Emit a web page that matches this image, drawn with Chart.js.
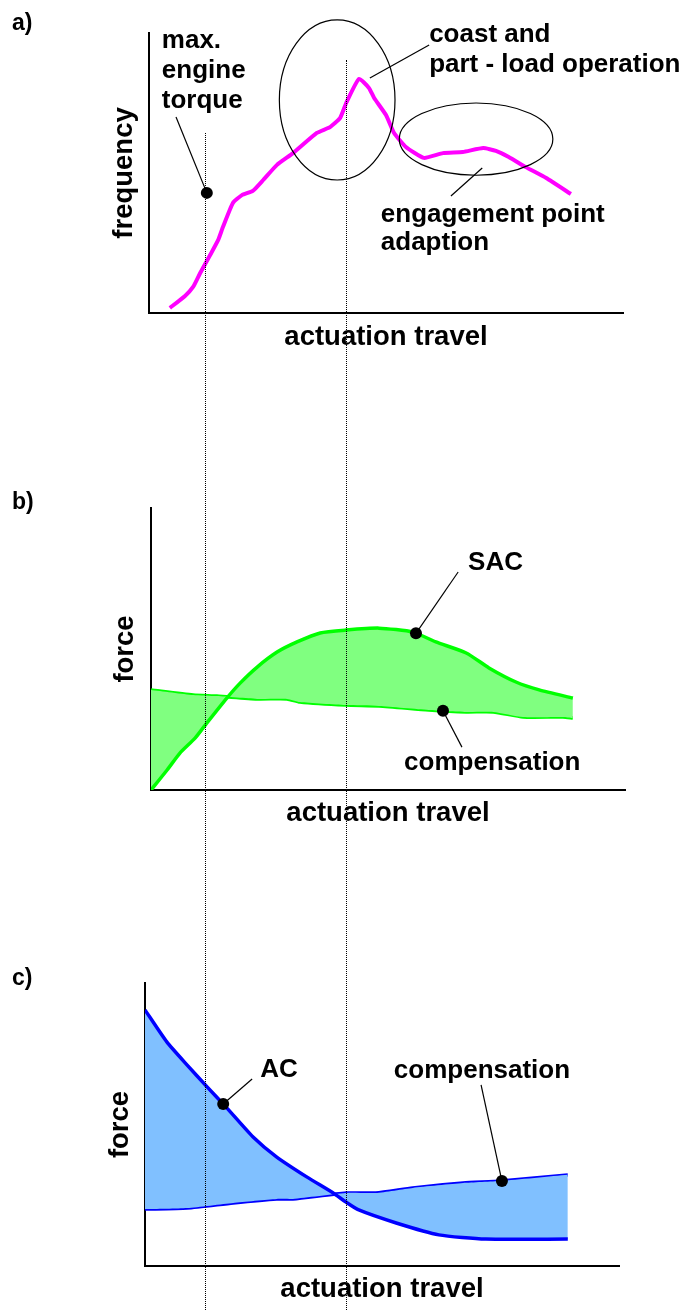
<!DOCTYPE html>
<html>
<head>
<meta charset="utf-8">
<script src="https://cdn.jsdelivr.net/npm/chart.js@4"></script>
<style>
  body { margin: 0; background: #fff; }
  #page { position: relative; width: 692px; height: 1310px; overflow: hidden; }
  canvas { position: absolute; left: 0; }
  .guide { position: absolute; width: 0; bottom: 0; border-left: 1px dotted #000; }
</style>
</head>
<body>
<div id="page">
  <canvas id="freqChart" width="692" height="360" style="top:0"></canvas>
  <canvas id="sacChart" width="692" height="380" style="top:460px"></canvas>
  <canvas id="acChart" width="692" height="360" style="top:950px"></canvas>
  <div class="guide" style="left:205px; top:133px"></div>
  <div class="guide" style="left:346px; top:60px"></div>
</div>
<script>
// a) frequency over actuation travel (0..100 = length of the axis)
const freqTravel = [4.4, 7.6, 9.3, 10.8, 12.9, 14.6, 15.6, 17.7, 19.6, 21.9, 24.1, 27.0, 30.4, 35.4, 38.2, 40.3,
                    41.6, 44.3, 46.4, 47.5, 50.0, 51.7, 54.2, 58.0, 62.0, 66.2, 70.5, 73.2, 75.9, 79.5, 83.8, 89.0];
const freqValues = [1.8, 6.1, 9.3, 14.3, 20.7, 26.1, 30.7, 39.3, 42.1, 43.6, 47.5, 52.9, 57.1, 64.3, 66.4, 69.6,
                    75.0, 83.6, 80.4, 76.8, 70.7, 64.3, 59.3, 55.4, 57.1, 57.5, 58.9, 57.9, 55.7, 52.1, 48.2, 42.5];

// b) self adjusting clutch force vs compensation
const sacTravel = [0, 3.4, 6.1, 9.3, 11.8, 16.0, 18.8, 22.4, 26.6, 30.8, 35.7, 41.1, 48.1, 55.3, 60.1, 66.5, 71.3, 77.0, 81.9, 89.0];
const sacForce  = [0, 7.1, 13.1, 18.4, 23.8, 32.6, 37.9, 43.6, 48.9, 52.5, 55.7, 56.7, 57.4, 56.0, 52.5, 48.6, 43.3, 38.3, 35.5, 32.6];
const compBTravel = [0, 8.9, 13.9, 22.4, 28.7, 31.4, 41.1, 48.1, 58.6, 66.5, 72.2, 78.5, 86.9, 89.0];
const compBForce  = [35.5, 33.7, 33.3, 32.3, 32.3, 31.2, 30.1, 29.8, 28.4, 27.7, 27.7, 25.9, 25.9, 25.5];

// c) conventional clutch force vs compensation
const acTravel = [0, 4.6, 8.9, 13.1, 17.3, 22.8, 27.8, 34.2, 39.7, 42.4, 45.1, 53.0, 62.0, 71.9, 89.2];
const acForce  = [90.5, 79.2, 71.0, 63.3, 55.8, 45.6, 38.5, 31.4, 25.8, 22.6, 19.8, 15.2, 11.0, 9.5, 9.5];
const compCTravel = [0, 8.9, 18.6, 27.8, 31.2, 42.4, 48.7, 56.5, 67.1, 75.1, 89.2];
const compCForce  = [20.1, 20.5, 22.3, 23.7, 23.7, 25.8, 25.8, 27.6, 29.3, 30.0, 32.2];

const xTitle = 'actuation travel';
const family = '"Liberation Sans", Arial, sans-serif';

const toPoints = (xs, ys) => xs.map((v, i) => ({ x: v, y: ys[i] }));

// y of a dataset at a given travel, used to sit the callout dots on the curves
function yOn(data, t) {
  for (let i = 1; i < data.length; i++) {
    if (t <= data[i].x) {
      const a = data[i - 1], b = data[i];
      return a.y + (b.y - a.y) * (t - a.x) / (b.x - a.x);
    }
  }
  return data[data.length - 1].y;
}

const callouts = {
  id: 'callouts',
  afterDatasetsDraw(chart, args, opts) {
    const { ctx, scales: { x, y } } = chart;
    const px = v => x.getPixelForValue(v);
    const py = v => y.getPixelForValue(v);
    ctx.save();
    ctx.strokeStyle = '#000';
    ctx.fillStyle = '#000';
    ctx.lineWidth = 1.2;

    (opts.ellipses || []).forEach(e => {
      ctx.beginPath();
      ctx.ellipse(px(e.x), py(e.y), Math.abs(px(e.x + e.rx) - px(e.x)), Math.abs(py(e.y + e.ry) - py(e.y)), 0, 0, Math.PI * 2);
      ctx.stroke();
    });

    (opts.pointers || []).forEach(p => {
      let tx, ty;
      if (p.on !== undefined) {
        tx = p.at;
        ty = yOn(chart.data.datasets[p.on].data, p.at);
      } else {
        [tx, ty] = p.to;
      }
      ctx.beginPath();
      ctx.moveTo(px(p.from[0]), py(p.from[1]));
      ctx.lineTo(px(tx), py(ty));
      ctx.stroke();
      if (p.dot !== false) {
        ctx.beginPath();
        ctx.arc(px(tx), py(ty), 6, 0, Math.PI * 2);
        ctx.fill();
      }
    });

    ctx.font = 'bold 26px ' + family;
    ctx.textBaseline = 'alphabetic';
    ctx.textAlign = 'left';
    (opts.texts || []).forEach(t => {
      t.lines.forEach((s, i) => ctx.fillText(s, px(t.x), py(t.y) + i * (t.gap || 30)));
    });

    if (opts.tag) {
      ctx.font = 'bold 23px ' + family;
      ctx.fillText(opts.tag, 12, opts.tagY);
    }
    ctx.restore();
  }
};

function scales(yTitle, xPad, yPad) {
  const axis = (text, padding) => ({
    type: 'linear', min: 0, max: 100,
    grid: { display: false, drawTicks: false },
    ticks: { display: false },
    border: { display: true, color: '#000', width: 2 },
    title: { display: true, text: text, color: '#000', padding: padding,
             font: { family: family, size: 27.5, weight: 'bold', lineHeight: 1 } }
  });
  return {
    x: axis(xTitle, { top: xPad, bottom: 0 }),
    y: axis(yTitle, { top: 0, bottom: yPad })
  };
}

function makeChart(id, datasets, yTitle, padding, xPad, yPad, notes) {
  return new Chart(document.getElementById(id), {
    type: 'line',
    data: { datasets: datasets },
    options: {
      responsive: false,
      animation: false,
      layout: { padding: padding },
      elements: { point: { radius: 0 } },
      scales: scales(yTitle, xPad, yPad),
      plugins: { legend: { display: false }, tooltip: { enabled: false }, callouts: notes }
    },
    plugins: [callouts]
  });
}

makeChart('freqChart', [{
  data: toPoints(freqTravel, freqValues),
  borderColor: '#ff00ff', borderWidth: 4, tension: 0.15, fill: false
}], 'frequency', { left: 111, right: 69, top: 33, bottom: 9.25 }, 10.25, 10.5, {
  tag: 'a)', tagY: 30,
  ellipses: [{ x: 39.7, y: 76.1, rx: 12.2, ry: 28.6 }, { x: 69.0, y: 62.1, rx: 16.2, ry: 12.9 }],
  pointers: [
    { from: [5.7, 70.0], to: [12.2, 42.9] },
    { from: [46.6, 83.9], to: [59.1, 95.7], dot: false },
    { from: [70.3, 51.8], to: [63.7, 41.8], dot: false }
  ],
  texts: [
    { x: 2.7, y: 94.6, lines: ['max.', 'engine', 'torque'] },
    { x: 59.1, y: 96.8, lines: ['coast and', 'part - load operation'] },
    { x: 48.9, y: 32.5, lines: ['engagement point', 'adaption'], gap: 28 }
  ]
});

makeChart('sacChart', [{
  data: toPoints(sacTravel, sacForce),
  borderColor: '#00ff00', borderWidth: 3.5, tension: 0.2,
  backgroundColor: '#80ff80', fill: '+1'
}, {
  data: toPoints(compBTravel, compBForce),
  borderColor: '#00ff00', borderWidth: 3.5, tension: 0.2, fill: false
}], 'force', { left: 112, right: 67, top: 48, bottom: 13.25 }, 9.25, 11.5, {
  tag: 'b)', tagY: 509 - 460,
  pointers: [
    { from: [64.8, 77.3], at: 55.9, on: 0 },
    { from: [65.6, 15.2], at: 61.6, on: 1 }
  ],
  texts: [
    { x: 66.9, y: 78.0, lines: ['SAC'] },
    { x: 53.4, y: 7.1, lines: ['compensation'] }
  ]
});

makeChart('acChart', [{
  data: toPoints(acTravel, acForce),
  borderColor: '#0000ff', borderWidth: 3.5, tension: 0.2,
  backgroundColor: '#80c0ff', fill: '+1'
}, {
  data: toPoints(compCTravel, compCForce),
  borderColor: '#0000ff', borderWidth: 3.5, tension: 0.2, fill: false
}], 'force', { left: 107, right: 73, top: 33, bottom: 7.25 }, 9.25, 10.5, {
  tag: 'c)', tagY: 985 - 950,
  pointers: [
    { from: [22.6, 66.1], at: 16.5, on: 0 },
    { from: [70.9, 64.0], at: 75.3, on: 1 }
  ],
  texts: [
    { x: 24.3, y: 66.8, lines: ['AC'] },
    { x: 52.5, y: 66.4, lines: ['compensation'] }
  ]
});
</script>
</body>
</html>
